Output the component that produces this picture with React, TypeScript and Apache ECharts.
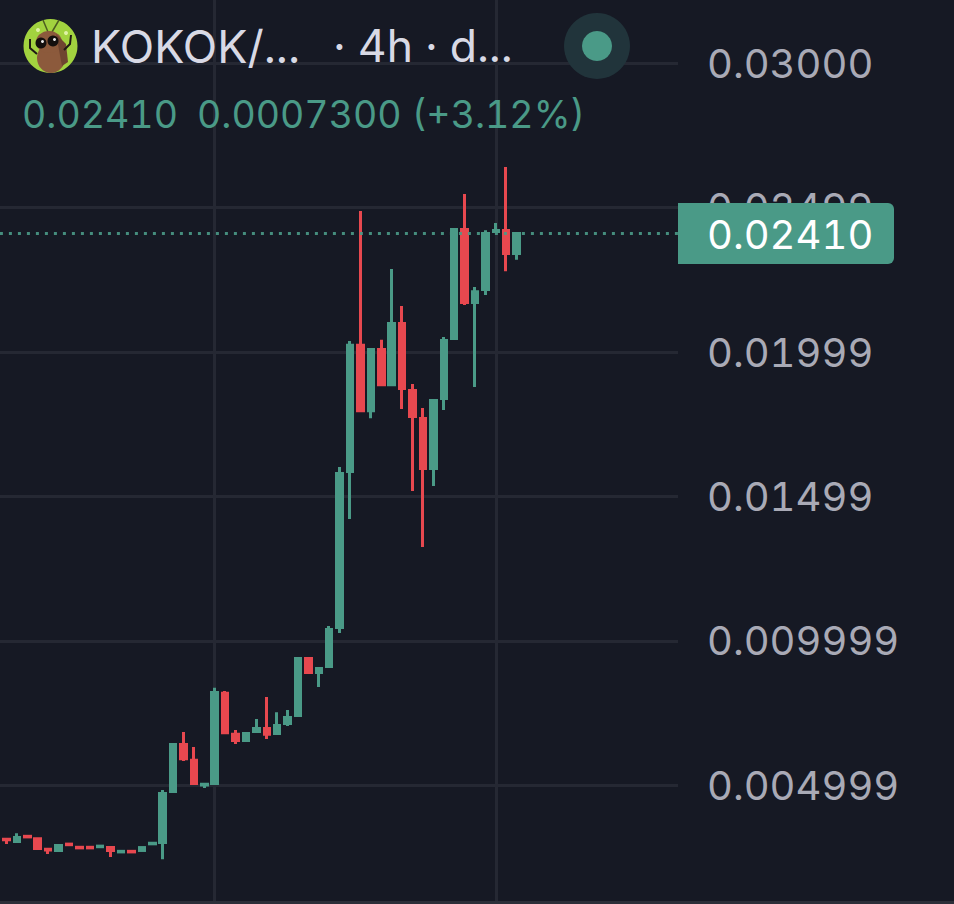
import React from 'react';
import * as echarts from 'echarts';

// [open, close, low, high], oldest first
const candles: number[][] = [
  [0.00308, 0.00309, 0.00308, 0.00309],
  [0.00313, 0.00311, 0.00296, 0.00313],
  [0.00305, 0.00319, 0.00305, 0.00334],
  [0.00323, 0.00321, 0.00321, 0.00323],
  [0.00315, 0.00281, 0.00281, 0.00315],
  [0.00278, 0.00276, 0.00262, 0.00278],
  [0.00274, 0.00291, 0.00274, 0.00291],
  [0.00296, 0.00294, 0.00294, 0.00296],
  [0.00285, 0.00283, 0.00283, 0.00285],
  [0.00285, 0.00283, 0.00283, 0.00285],
  [0.00287, 0.00289, 0.00287, 0.00289],
  [0.00284, 0.00274, 0.00251, 0.00284],
  [0.00269, 0.00271, 0.00269, 0.00271],
  [0.00271, 0.00269, 0.00269, 0.00271],
  [0.00274, 0.00284, 0.00274, 0.00284],
  [0.00297, 0.00299, 0.00297, 0.00299],
  [0.00302, 0.00471, 0.00244, 0.00483],
  [0.00478, 0.00641, 0.00478, 0.00641],
  [0.00641, 0.00592, 0.00584, 0.00684],
  [0.00586, 0.00506, 0.00506, 0.00632],
  [0.00501, 0.00503, 0.0049, 0.00503],
  [0.00506, 0.00821, 0.00506, 0.00837],
  [0.00818, 0.00682, 0.00682, 0.00826],
  [0.00676, 0.00655, 0.00643, 0.00691],
  [0.00655, 0.00679, 0.00655, 0.00679],
  [0.00686, 0.00696, 0.00686, 0.00729],
  [0.00696, 0.00676, 0.0066, 0.00805],
  [0.00679, 0.00707, 0.00679, 0.00753],
  [0.00714, 0.00734, 0.00705, 0.0076],
  [0.00741, 0.00939, 0.00741, 0.00939],
  [0.00939, 0.0089, 0.0089, 0.00939],
  [0.0089, 0.00904, 0.0084, 0.00904],
  [0.00911, 0.01039, 0.00911, 0.01051],
  [0.01046, 0.01579, 0.01027, 0.01602],
  [0.01586, 0.02023, 0.01422, 0.02038],
  [0.02023, 0.01797, 0.01792, 0.02488],
  [0.01797, 0.02009, 0.01771, 0.02009],
  [0.02009, 0.01887, 0.01887, 0.02042],
  [0.01887, 0.02099, 0.01887, 0.02287],
  [0.02099, 0.01874, 0.01803, 0.02159],
  [0.01867, 0.01777, 0.01519, 0.01889],
  [0.0177, 0.01597, 0.01325, 0.01806],
  [0.01597, 0.01832, 0.01536, 0.01832],
  [0.01839, 0.0204, 0.01799, 0.02052],
  [0.02047, 0.02424, 0.02047, 0.02424],
  [0.02424, 0.02171, 0.02163, 0.02547],
  [0.02171, 0.02209, 0.01879, 0.02225],
  [0.02216, 0.0241, 0.02197, 0.02422],
  [0.02417, 0.02421, 0.02417, 0.02447],
  [0.02421, 0.02341, 0.0228, 0.02641],
  [0.02341, 0.0241, 0.02319, 0.0241],
];
const emptySlots = 15; // room to the right of the last candle
const categories = Array.from({ length: candles.length + emptySlots }, (_, i) => String(i));
const timeLines = [21, 48];

const tickValues = [0.005, 0.01, 0.015, 0.02, 0.025, 0.03];
const tickLabels = ['0.004999', '0.009999', '0.01499', '0.01999', '0.02499', '0.03000'];
const lastPrice = 0.0241;

const UP = '#4a9a87';
const DOWN = '#e7484f';
const BG = '#161924';
const GRID = '#252833';
const FONT = 'Inter, "Noto Sans", sans-serif';

const App: React.FC = () => {
  const chartRef = React.useRef<HTMLDivElement>(null);

  React.useEffect(() => {
    if (!chartRef.current) return;
    const chart = echarts.init(chartRef.current, undefined, { renderer: 'svg' });

    chart.setOption({
      animation: false,
      backgroundColor: BG,
      grid: { left: -9.1, width: 687.1, top: -81.2, height: 1010.8, outerBoundsMode: 'none' },
      xAxis: {
        type: 'category',
        data: categories,
        axisLine: { show: false },
        axisTick: { show: false },
        axisLabel: { show: false },
        splitLine: {
          show: true,
          alignWithLabel: true,
          interval: (i: number) => timeLines.includes(i),
          lineStyle: { color: GRID, width: 3 },
        },
      },
      yAxis: {
        type: 'value',
        position: 'right',
        min: 0,
        max: 0.035,
        interval: 0.005,
        axisLine: { show: false },
        axisTick: { show: false },
        splitLine: { lineStyle: { color: GRID, width: 3 } },
        axisLabel: {
          margin: 29,
          color: '#a9aab6',
          fontFamily: FONT,
          fontSize: 40,
          formatter: (v: number) => {
            const k = tickValues.findIndex(t => Math.abs(t - v) < 1e-6);
            return k < 0 ? '' : tickLabels[k];
          },
        },
      },
      series: [
        {
          type: 'candlestick',
          data: candles,
          barWidth: 6,
          itemStyle: {
            color: UP,
            color0: DOWN,
            borderColor: UP,
            borderColor0: DOWN,
            borderWidth: 3,
          },
          markLine: {
            silent: true,
            symbol: 'none',
            precision: 5,
            label: { show: false },
            lineStyle: { color: UP, width: 3, type: [3, 6], opacity: 0.9 },
            data: [{ yAxis: lastPrice }],
          },
        },
      ],
      graphic: [
        // bottom edge of the pane
        { type: 'line', z: 5, shape: { x1: 0, y1: 902.5, x2: 954, y2: 902.5 }, style: { stroke: '#2c2f39', lineWidth: 3 } },
        // avatar
        { type: 'circle', z: 10, shape: { cx: 50.5, cy: 46, r: 27 }, style: { fill: '#a2d33f' } },
        { type: 'circle', z: 11, shape: { cx: 66, cy: 33, r: 2 }, style: { fill: '#dff2a6' } },
        { type: 'circle', z: 11, shape: { cx: 38, cy: 30, r: 2 }, style: { fill: '#dff2a6' } },
        { type: 'line', z: 11, shape: { x1: 48, y1: 32, x2: 43, y2: 20 }, style: { stroke: '#4c5c20', lineWidth: 1.5 } },
        { type: 'line', z: 11, shape: { x1: 52, y1: 32, x2: 59, y2: 20 }, style: { stroke: '#4c5c20', lineWidth: 1.5 } },
        { type: 'ellipse', z: 11, shape: { cx: 51, cy: 58, rx: 14, ry: 15 }, style: { fill: '#8c5a3c' } },
        { type: 'ellipse', z: 11, shape: { cx: 49, cy: 42, rx: 13, ry: 11 }, style: { fill: '#8c5a3c' } },
        { type: 'polygon', z: 11, shape: { points: [[56, 34], [66, 44], [68, 62], [62, 66]] }, style: { fill: '#6f4530' } },
        { type: 'circle', z: 12, shape: { cx: 41, cy: 43, r: 5.5 }, style: { fill: '#14100e' } },
        { type: 'circle', z: 12, shape: { cx: 53, cy: 41, r: 5.5 }, style: { fill: '#14100e' } },
        { type: 'circle', z: 13, shape: { cx: 42.5, cy: 41.5, r: 1.5 }, style: { fill: '#e8e8e8' } },
        { type: 'circle', z: 13, shape: { cx: 54.5, cy: 39.5, r: 1.5 }, style: { fill: '#e8e8e8' } },
        { type: 'polyline', z: 12, shape: { points: [[30, 39], [30, 48], [37, 54]] }, style: { stroke: '#1f1a14', lineWidth: 2, fill: 'none' } },
        { type: 'polyline', z: 12, shape: { points: [[71, 35], [70, 44], [64, 50]] }, style: { stroke: '#1f1a14', lineWidth: 2, fill: 'none' } },
        // header
        { type: 'text', z: 10, x: 91, y: 46, style: { text: 'KOKOK/...', fill: '#d8d9e5', fontFamily: FONT, fontSize: 45, verticalAlign: 'middle' } },
        { type: 'text', z: 10, x: 333, y: 46, style: { text: '· 4h · d...', fill: '#d8d9e5', fontFamily: FONT, fontSize: 44.5, verticalAlign: 'middle' } },
        { type: 'text', z: 10, x: 22, y: 114, style: { text: '0.02410', fill: UP, fontFamily: FONT, fontSize: 37.5, verticalAlign: 'middle' } },
        { type: 'text', z: 10, x: 197, y: 114, style: { text: '0.0007300 (+3.12%)', fill: UP, fontFamily: FONT, fontSize: 37.5, verticalAlign: 'middle' } },
        // live dot
        { type: 'circle', z: 10, shape: { cx: 597, cy: 46, r: 33 }, style: { fill: '#21343b' } },
        { type: 'circle', z: 11, shape: { cx: 597, cy: 46, r: 15 }, style: { fill: UP } },
        // last price tag
        { type: 'rect', z: 20, shape: { x: 678, y: 203, width: 216, height: 61, r: [0, 6, 6, 0] }, style: { fill: UP } },
        { type: 'text', z: 21, x: 707, y: 234, style: { text: '0.02410', fill: '#ffffff', fontFamily: FONT, fontSize: 40, verticalAlign: 'middle' } },
      ],
    });

    return () => {
      chart.dispose();
    };
  }, []);

  return (
    <div
      ref={chartRef}
      style={{ position: 'fixed', left: 0, top: 0, width: 954, height: 904, fontVariantNumeric: 'tabular-nums' }}
    />
  );
};

export default App;
